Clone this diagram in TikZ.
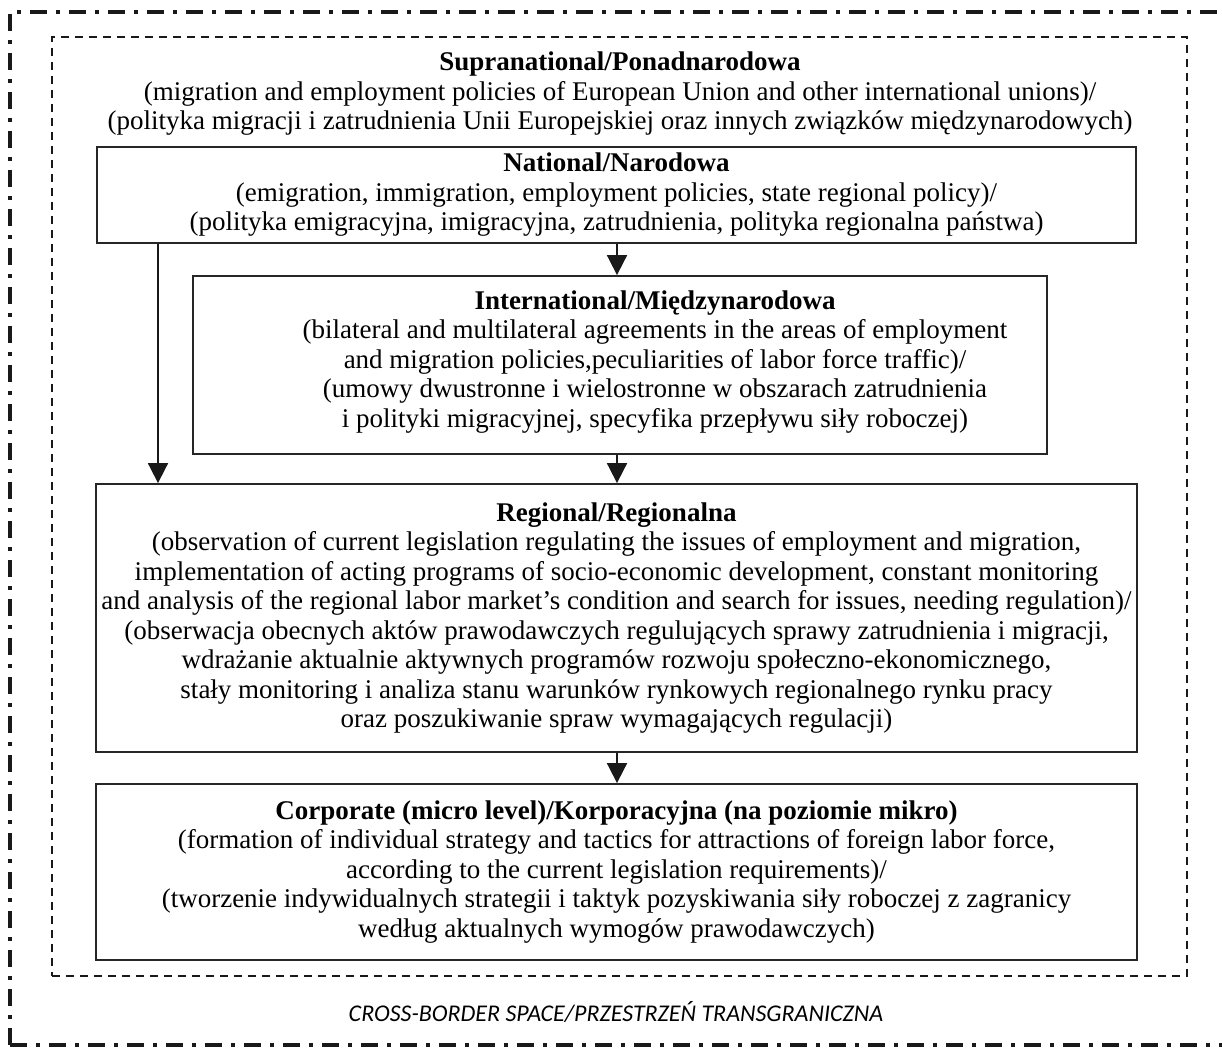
\documentclass[tikz,border=0pt]{standalone}
\usepackage{fontspec}
\setmainfont{Liberation Serif}
\newfontfamily\labelfont{Carlito}
\usetikzlibrary{arrows.meta}
\begin{document}
\begin{tikzpicture}[x=1pt,y=-1pt,
  txt/.style={align=center,font=\fontsize{27}{29.5}\selectfont,inner sep=0pt},
  levelbox/.style={txt,draw=black!85,line width=1.8pt,minimum height=#1},
  arr/.style={line width=1.8pt,draw=black!90,-{Triangle[width=20pt,length=20pt]}},
  outerframe/.style={draw=black!90,line width=3.5pt,dash pattern=on 17pt off 9pt on 4pt off 9pt},
  innerframe/.style={draw=black!90,line width=1.6pt,dash pattern=on 8pt off 6pt}]
\useasboundingbox (0,0) rectangle (1222,1048);
\node[outerframe,minimum width=1218pt,minimum height=1033pt] (outer) at (619,528.5) {};
\node[innerframe,minimum width=1135pt,minimum height=939pt] (inner) at (619.5,506.5) {};
\node[txt] (supra) at (620,94) {\textbf{Supranational/Ponadnarodowa}\\
(migration and employment policies of European Union and other international unions)/\\
(polityka migracji i zatrudnienia Unii Europejskiej oraz innych związków międzynarodowych)};
\node[levelbox=96pt,minimum width=1039pt] (nat) at (616.5,195) {\textbf{National/Narodowa}\\
(emigration, immigration, employment policies, state regional policy)/\\
(polityka emigracyjna, imigracyjna, zatrudnienia, polityka regionalna państwa)};
\node[levelbox=178pt,minimum width=854pt] (intl) at (620,365) {};
\node[txt] (intltxt) at (655,362) {\textbf{International/Międzynarodowa}\\
(bilateral and multilateral agreements in the areas of employment\\
and migration policies,peculiarities of labor force traffic)/\\
(umowy dwustronne i wielostronne w obszarach zatrudnienia\\
i polityki migracyjnej, specyfika przepływu siły roboczej)};
\node[levelbox=268pt,minimum width=1041pt] (reg) at (616.5,618) {\textbf{Regional/Regionalna}\\
(observation of current legislation regulating the issues of employment and migration,\\
implementation of acting programs of socio-economic development, constant monitoring\\
and analysis of the regional labor market’s condition and search for issues, needing regulation)/\\
(obserwacja obecnych aktów prawodawczych regulujących sprawy zatrudnienia i migracji,\\
wdrażanie aktualnie aktywnych programów rozwoju społeczno-ekonomicznego,\\
stały monitoring i analiza stanu warunków rynkowych regionalnego rynku pracy\\
oraz poszukiwanie spraw wymagających regulacji)};
\node[levelbox=176pt,minimum width=1041pt] (corp) at (616.5,872) {\textbf{Corporate (micro level)/Korporacyjna (na poziomie mikro)}\\
(formation of individual strategy and tactics for attractions of foreign labor force,\\
according to the current legislation requirements)/\\
(tworzenie indywidualnych strategii i taktyk pozyskiwania siły roboczej z zagranicy\\
według aktualnych wymogów prawodawczych)};
\node[inner sep=0pt,font=\labelfont\itshape\fontsize{24}{28}\selectfont] (space) at (616,1012) {CROSS-BORDER SPACE/PRZESTRZEŃ TRANSGRANICZNA};
\coordinate (mx) at (617,0);
\coordinate (lx) at (158,0);
\draw[arr] (nat.south -| mx) -- (intl.north -| mx);
\draw[arr] (intl.south -| mx) -- (reg.north -| mx);
\draw[arr] (reg.south -| mx) -- (corp.north -| mx);
\draw[arr] (nat.south -| lx) -- (reg.north -| lx);
\end{tikzpicture}
\end{document}
